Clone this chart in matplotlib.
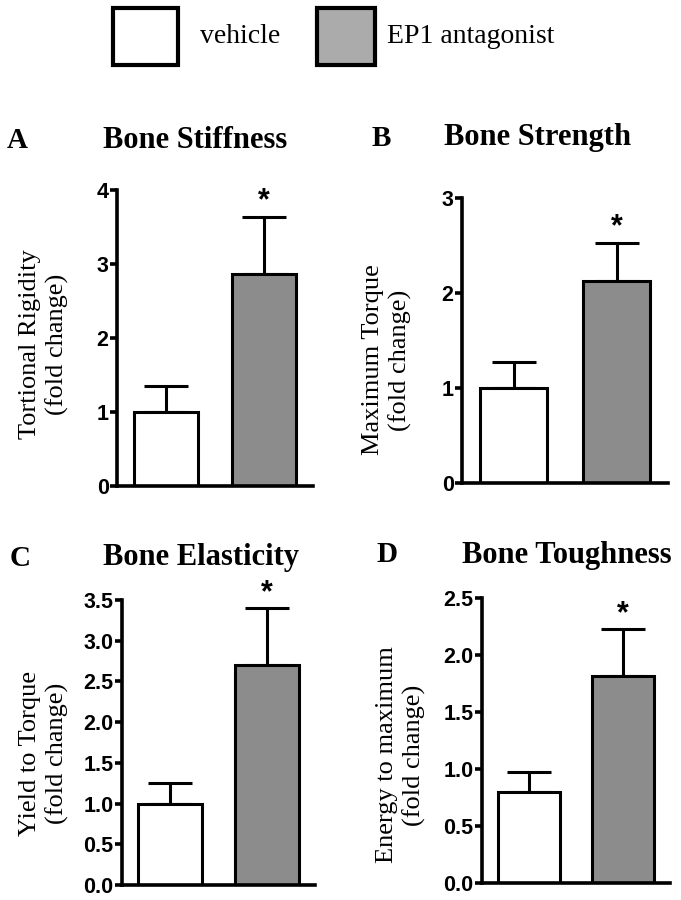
import matplotlib
matplotlib.use("Agg")
import matplotlib.pyplot as plt
from matplotlib.patches import Rectangle

W, H = 681, 900

groups = ["vehicle", "EP1 antagonist"]
panel_letters = ["A", "B", "C", "D"]
titles = ["Bone Stiffness", "Bone Strength", "Bone Elasticity", "Bone Toughness"]
ylabels = ["Tortional Rigidity\n(fold change)", "Maximum Torque\n(fold change)",
           "Yield to Torque\n(fold change)", "Energy to maximum\n(fold change)"]
means = [[1.00, 2.86], [1.00, 2.13], [1.00, 2.70], [0.80, 1.82]]
errs = [[0.35, 0.78], [0.27, 0.40], [0.25, 0.70], [0.17, 0.41]]
yticks = [[0, 1, 2, 3, 4], [0, 1, 2, 3],
          [0.0, 0.5, 1.0, 1.5, 2.0, 2.5, 3.0, 3.5],
          [0.0, 0.5, 1.0, 1.5, 2.0, 2.5]]
tickfmt = ["{:.0f}", "{:.0f}", "{:.1f}", "{:.1f}"]

bar_colors = ["white", "#8c8c8c"]
legend_colors = ["white", "#ababab"]

# pixel boxes (left, right, bottom, top) of each axes
boxes = [(117, 313, 486, 190), (462, 668, 483, 198),
         (122, 315, 885, 600), (482, 670, 883, 598)]
ylabel_pos = [(44, 344), (387, 360), (44, 753), (401, 755)]
letter_pos = [(17, 140), (381, 138), (20, 558), (387, 555)]
title_pos = [(195, 140), (538, 138), (201, 558), (567, 555)]

fig = plt.figure(figsize=(W / 100, H / 100), dpi=100)
serif = "Liberation Serif"
sans = "Liberation Sans"

for i in range(4):
    l, r, b, t = boxes[i]
    ax = fig.add_axes([l / W, 1 - b / H, (r - l) / W, (b - t) / H])
    x = [0, 1]
    ax.bar(x, means[i], width=0.66, color=bar_colors, edgecolor="black",
           linewidth=2.2, zorder=2)
    for j in range(2):
        ax.errorbar(x[j], means[i][j], yerr=[[0], [errs[i][j]]], fmt="none",
                    ecolor="black", elinewidth=2.2, capsize=16, capthick=2.2, zorder=1)
    top = means[i][1] + errs[i][1]
    ax.text(1, top, "*", ha="center", va="bottom", fontsize=22,
            fontweight="bold", family=sans)
    ax.set_xlim(-0.5, 1.5)
    ax.set_ylim(0, yticks[i][-1])
    ax.set_yticks(yticks[i])
    ax.set_yticklabels([tickfmt[i].format(v) for v in yticks[i]],
                       fontsize=15.5, fontweight="bold", family=sans)
    ax.set_xticks([])
    for s in ["top", "right"]:
        ax.spines[s].set_visible(False)
    for s in ["left", "bottom"]:
        ax.spines[s].set_linewidth(2.6)
    ax.tick_params(axis="y", direction="out", length=5, width=2.6, pad=1)
    ax.patch.set_alpha(0)

    fig.text(ylabel_pos[i][0] / W, 1 - ylabel_pos[i][1] / H, ylabels[i],
             rotation=90, ha="center", va="center", multialignment="center",
             fontsize=19, family=serif, linespacing=1.2)
    fig.text(letter_pos[i][0] / W, 1 - letter_pos[i][1] / H, panel_letters[i],
             ha="center", va="center", fontsize=21, fontweight="bold", family=serif)
    fig.text(title_pos[i][0] / W, 1 - title_pos[i][1] / H, titles[i],
             ha="center", va="center", fontsize=22, fontweight="bold", family=serif)

# legend drawn in pixel coordinates
lax = fig.add_axes([0, 0, 1, 1], zorder=-1)
lax.set_xlim(0, W)
lax.set_ylim(H, 0)
lax.axis("off")
legend_boxes = [(113, 8, 65, 57), (317, 8, 58, 57)]
legend_text_x = [200, 387]
for k in range(2):
    bx, by, bw, bh = legend_boxes[k]
    lax.add_patch(Rectangle((bx, by), bw, bh, facecolor=legend_colors[k],
                            edgecolor="black", linewidth=3))
    lax.text(legend_text_x[k], by + bh / 2, groups[k], ha="left", va="center",
             fontsize=20, family=serif)

fig.savefig("out.png", dpi=100)
